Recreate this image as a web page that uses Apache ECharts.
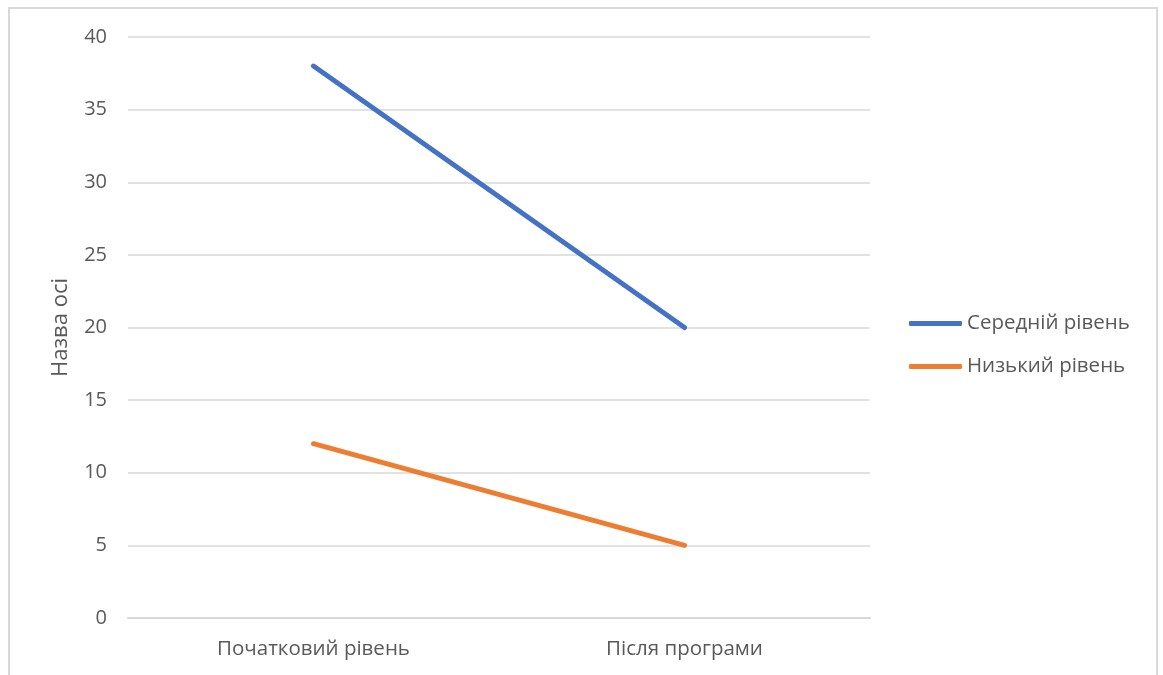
<!DOCTYPE html>
<html><head><meta charset="utf-8">
<script src="https://cdn.jsdelivr.net/npm/echarts@6/dist/echarts.min.js"></script>
<style>
html,body{margin:0;padding:0;background:#fff;}
#frame{position:absolute;left:8px;top:7px;width:1150px;height:700px;border:2px solid #d9d9d9;box-sizing:border-box;}
#c{position:absolute;left:0;top:0;width:1163px;height:675px;}
</style></head>
<body>
<div id="frame"></div>
<div id="c"></div>
<script>
const categories = ['Початковий рівень', 'Після програми'];
const seriesNames = ['Середній рівень', 'Низький рівень'];
const middleLevel = [38, 20];
const lowLevel = [12, 5];
const yAxisName = 'Назва осі';

const font = 'Open Sans';
const chart = echarts.init(document.getElementById('c'));
chart.setOption({
  backgroundColor: 'transparent',
  animation: false,
  grid: {left: 128, right: 293, top: 37, bottom: 57, containLabel: false},
  legend: {
    orient: 'vertical', left: 904, top: 308,
    itemWidth: 53, itemHeight: 5, itemGap: 22, icon: 'roundRect',
    textStyle: {fontFamily: font, fontSize: 20.5, color: '#595959'},
    data: seriesNames
  },
  xAxis: {
    type: 'category', data: categories, boundaryGap: true,
    axisLine: {show: true, lineStyle: {color: '#d9d9d9', width: 2}},
    axisTick: {show: false},
    axisLabel: {fontFamily: font, fontSize: 20.5, color: '#595959', margin: 21}
  },
  yAxis: {
    type: 'value', min: 0, max: 40, interval: 5,
    name: yAxisName, nameLocation: 'middle', nameGap: 56,
    nameTextStyle: {fontFamily: font, fontSize: 22, color: '#595959'},
    axisLine: {show: false}, axisTick: {show: false},
    splitLine: {lineStyle: {color: '#d9d9d9', width: 1.5}},
    axisLabel: {fontFamily: font, fontSize: 20, color: '#595959', margin: 21}
  },
  series: [
    {name: seriesNames[0], type: 'line', data: middleLevel, symbol: 'none',
     lineStyle: {color: '#4472C4', width: 5, cap: 'round'}, itemStyle: {color: '#4472C4'}},
    {name: seriesNames[1], type: 'line', data: lowLevel, symbol: 'none',
     lineStyle: {color: '#ED7D31', width: 5, cap: 'round'}, itemStyle: {color: '#ED7D31'}}
  ]
});
</script>
</body></html>
